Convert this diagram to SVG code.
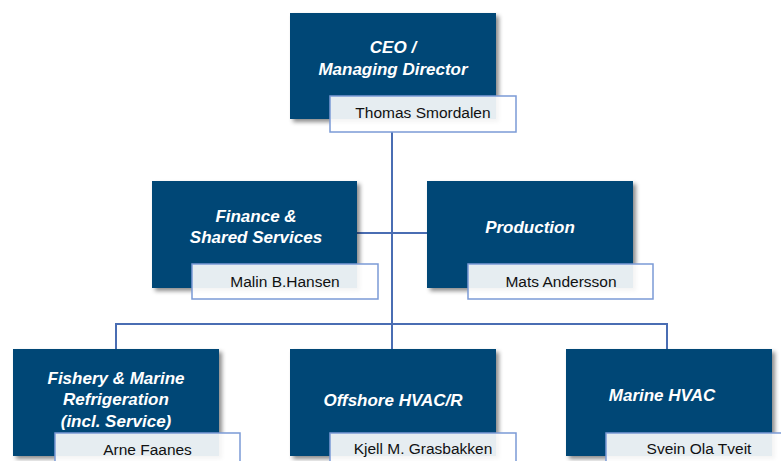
<svg xmlns="http://www.w3.org/2000/svg" width="781" height="461" viewBox="0 0 781 461">
<defs>
<filter id="sh" x="-10%" y="-10%" width="130%" height="130%">
<feDropShadow dx="3" dy="3" stdDeviation="2" flood-color="#000" flood-opacity="0.45"/>
</filter>
<style>
.box{fill:#054676;filter:url(#sh);}
.name{fill:#fff;fill-opacity:0.9;stroke:#7b9ad6;stroke-width:1.5;}
.title{font-family:"Liberation Sans",Arial,sans-serif;font-size:17px;font-weight:bold;font-style:italic;fill:#fff;text-anchor:middle;}
.person{font-family:"Liberation Sans",Arial,sans-serif;font-size:15.5px;fill:#111;text-anchor:middle;}
.conn{fill:none;stroke:#4a6db3;stroke-width:2;}
</style>
</defs>
<rect width="781" height="461" fill="#fff"/>
<g id="connectors">
<path class="conn" d="M392,132 V349"/>
<path class="conn" d="M357,233 H427"/>
<path class="conn" d="M116,349 V324 H667 V349"/>
</g>
<g id="ceo">
<rect class="box" x="290" y="13" width="206" height="106"/>
<text class="title" x="393" y="53">CEO /</text>
<text class="title" x="393" y="75">Managing Director</text>
<rect class="name" x="330" y="96" width="186" height="36"/>
<text class="person" x="423" y="118">Thomas Smordalen</text>
</g>
<g id="finance">
<rect class="box" x="152" y="181" width="205" height="107"/>
<text class="title" x="256" y="222">Finance &amp;</text>
<text class="title" x="256" y="243">Shared Services</text>
<rect class="name" x="192" y="264" width="186" height="35"/>
<text class="person" x="285" y="287">Malin B.Hansen</text>
</g>
<g id="production">
<rect class="box" x="427" y="181" width="206" height="107"/>
<text class="title" x="530" y="233">Production</text>
<rect class="name" x="468" y="264" width="185" height="35"/>
<text class="person" x="561" y="287">Mats Andersson</text>
</g>
<g id="fishery">
<rect class="box" x="13" y="349" width="206" height="107"/>
<text class="title" x="116" y="384">Fishery &amp; Marine</text>
<text class="title" x="116" y="405">Refrigeration</text>
<text class="title" x="116" y="427">(incl. Service)</text>
<rect class="name" x="55" y="433" width="185" height="36"/>
<text class="person" x="147.5" y="455">Arne Faanes</text>
</g>
<g id="offshore">
<rect class="box" x="290" y="349" width="206" height="107"/>
<text class="title" x="393" y="406">Offshore HVAC/R</text>
<rect class="name" x="330" y="433" width="186" height="36"/>
<text class="person" x="423" y="454">Kjell M. Grasbakken</text>
</g>
<g id="marine">
<rect class="box" x="566" y="349" width="206" height="107"/>
<text class="title" x="662" y="401">Marine HVAC</text>
<rect class="name" x="606" y="433" width="186" height="36"/>
<text class="person" x="699" y="454">Svein Ola Tveit</text>
</g>
</svg>
